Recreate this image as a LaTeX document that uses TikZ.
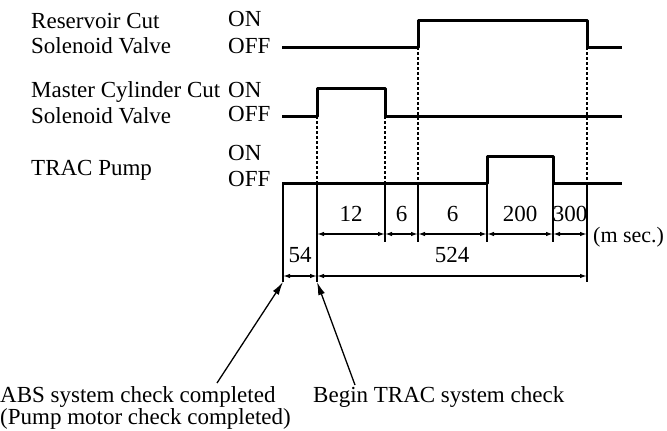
\documentclass[tikz,border=0pt]{standalone}
\usepackage{fontspec}
\setmainfont{Liberation Serif}
\usepackage{tikz}
\usetikzlibrary{arrows.meta,positioning}

\tikzset{
  sig/.style={line width=3pt, line join=round},
  guide/.style={line width=1.3pt, dash pattern=on 3pt off 2pt},
  tick/.style={line width=1.8pt},
  dim/.style={line width=1.3pt, {Latex[length=7pt,width=4.5pt]}-{Latex[length=7pt,width=4.5pt]}},
  lbl/.style={font=\fontsize{23}{24}\selectfont, inner sep=0pt},
  ptr/.style={line width=1.3pt, -{Latex[length=13pt,width=7pt]}}
}

\begin{document}
\begin{tikzpicture}[x=1pt,y=-1pt]
\useasboundingbox (0,0) rectangle (667,431);

% row labels
\node[lbl, anchor=base west] (resA) at (31,28) {Reservoir Cut};
\node[lbl, anchor=base west] (resB) at (31,53) {Solenoid Valve};
\node[lbl, anchor=base west] (mcA) at (31,97) {Master Cylinder Cut};
\node[lbl, anchor=base west] (mcB) at (31,123) {Solenoid Valve};
\node[lbl, anchor=base west] (pump) at (31,175) {TRAC Pump};
\node[lbl, anchor=base west] (resOn) at (228,27) {ON};
\node[lbl, anchor=base west] (resOff) at (228,53) {OFF};
\node[lbl, anchor=base west] (mcOn) at (228,97) {ON};
\node[lbl, anchor=base west] (mcOff) at (228,121) {OFF};
\node[lbl, anchor=base west] (pumpOn) at (228,160) {ON};
\node[lbl, anchor=base west] (pumpOff) at (228,186) {OFF};

% signals
\draw[sig] (282,47) -- (418,47) -- (418,20) -- (587,20) -- (587,47) -- (622,47);
\draw[sig] (282,116) -- (317,116) -- (317,88) -- (385,88) -- (385,116) -- (622,116);
\draw[sig] (282,183) -- (487,183) -- (487,156) -- (553,156) -- (553,183) -- (622,183);

% guides
\draw[guide] (317,116) -- (317,183);
\draw[guide] (385,116) -- (385,183);
\draw[guide] (418,47) -- (418,183);
\draw[guide] (587,47) -- (587,183);

% time marks
\coordinate (t0) at (283,183);
\coordinate (t1) at (317,183);
\coordinate (t2) at (385,183);
\coordinate (t3) at (418,183);
\coordinate (t4) at (487,183);
\coordinate (t5) at (553,183);
\coordinate (t6) at (587,183);
\coordinate (b0) at (283,282);
\coordinate (b1) at (317,282);
\coordinate (b2) at (385,242);
\coordinate (b3) at (418,242);
\coordinate (b4) at (487,242);
\coordinate (b5) at (553,242);
\coordinate (b6) at (587,282);
\foreach \i in {0,...,6}
  \draw[tick] (t\i) -- (b\i);

% dimensions
\coordinate (u1) at (317,234);
\coordinate (u2) at (385,234);
\coordinate (u3) at (418,234);
\coordinate (u4) at (487,234);
\coordinate (u5) at (553,234);
\coordinate (u6) at (587,234);
\coordinate (l0) at (283,276);
\coordinate (l1) at (317,276);
\coordinate (l6) at (587,276);
\draw[dim] (u1) -- (u2) node[lbl, midway, above=12pt] (d12) {12};
\draw[dim] (u2) -- (u3) node[lbl, midway, above=12pt] (d6a) {6};
\draw[dim] (u3) -- (u4) node[lbl, midway, above=12pt] (d6b) {6};
\draw[dim] (u4) -- (u5) node[lbl, midway, above=12pt] (d200) {200};
\draw[dim] (u5) -- (u6) node[lbl, midway, above=12pt] (d300) {300};
\draw[dim] (l0) -- (l1) node[lbl, midway, above=13pt] (d54) {54};
\draw[dim] (l1) -- (l6) node[lbl, midway, above=13pt] (d524) {524};
\node[lbl, font=\fontsize{22}{24}\selectfont, anchor=base west] (unit) at (593,242) {(m sec.)};

% events
\node[lbl, font=\fontsize{23}{18.5}\selectfont, align=left, anchor=north west] (abs) at (0,386)
  {ABS system check completed\\(Pump motor check completed)};
\node[lbl, anchor=base west] (trac) at (313,402) {Begin TRAC system check};
\coordinate (absFoot) at (217,383);
\coordinate (tracFoot) at (355,385);
\draw[ptr] (absFoot) -- (b0);
\draw[ptr] (tracFoot) -- (b1);
\end{tikzpicture}
\end{document}
